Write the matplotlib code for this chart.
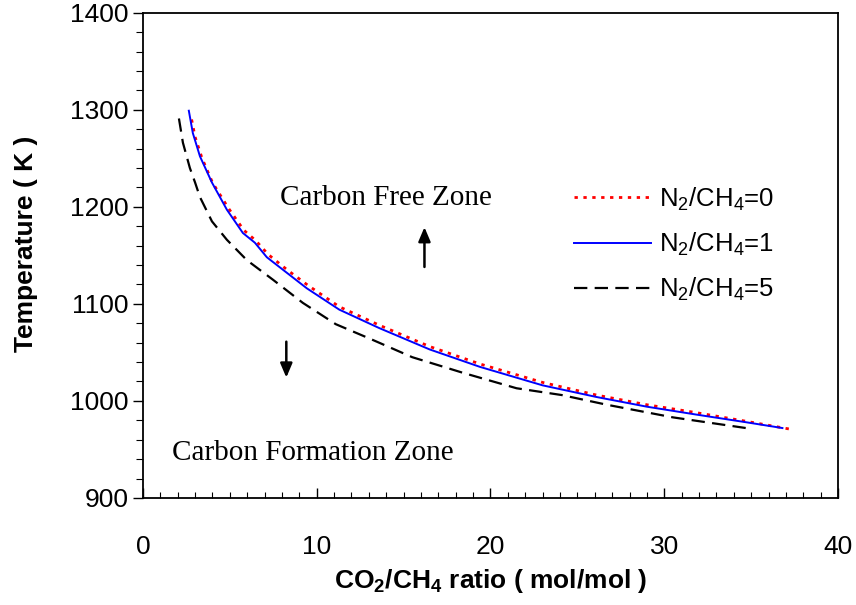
import matplotlib
matplotlib.use("Agg")
import matplotlib.pyplot as plt
from matplotlib.ticker import MultipleLocator

plt.rcParams['font.family'] = ['Liberation Sans', 'DejaVu Sans']
plt.rcParams['mathtext.fontset'] = 'custom'
plt.rcParams['mathtext.rm'] = 'Liberation Sans'
plt.rcParams['mathtext.it'] = 'Liberation Sans:italic'
plt.rcParams['mathtext.bf'] = 'Liberation Sans:bold'

# CO2/CH4 ratio vs carbon-free temperature limit
ratio_n0 = [2.8, 3.0, 3.4, 4.0, 4.9, 5.8, 6.5, 7.2, 8.3, 9.5, 11.3, 13.6, 16.5,
            19.4, 23.0, 26.1, 29.0, 31.8, 34.7, 37.2]
temp_n0 = [1290, 1272, 1250, 1225, 1199, 1176, 1165, 1151, 1135, 1119, 1097, 1078,
           1056, 1038, 1019, 1006, 996, 988, 979, 971]

ratio_n1 = [2.64, 2.87, 3.28, 3.97, 4.83, 5.75, 6.44, 7.13, 8.28, 9.43, 11.3, 13.6,
            16.5, 19.4, 23.0, 26.1, 29.0, 31.8, 34.7, 36.8]
temp_n1 = [1299, 1276, 1252, 1225, 1197, 1173, 1163, 1148, 1132, 1116, 1094, 1075,
           1053, 1035, 1016, 1004, 994, 986, 978, 972]

ratio_n5 = [2.07, 2.3, 2.7, 3.0, 3.28, 3.97, 4.83, 5.98, 7.47, 9.2, 11.1, 13.2, 15.5,
            18.4, 21.5, 24.1, 26.7, 30.5, 34.7]
temp_n5 = [1291, 1266, 1240, 1225, 1210, 1185, 1166, 1145, 1125, 1101, 1079, 1063,
           1045, 1029, 1013, 1006, 996, 983, 972]

fig = plt.figure(figsize=(8.56, 6.05), dpi=100)
ax = fig.add_axes([0.167, 0.177, 0.812, 0.802])

ax.plot(ratio_n0, temp_n0, color='red', lw=2.0, linestyle=(0, (1.2, 2.0)),
        label=r'N$_2$/CH$_4$=0')
ax.plot(ratio_n1, temp_n1, color='blue', lw=1.4, label=r'N$_2$/CH$_4$=1')
ax.plot(ratio_n5, temp_n5, color='black', lw=1.6, linestyle=(0, (6, 3.3)),
        label=r'N$_2$/CH$_4$=5')

ax.set_xlim(0, 40)
ax.set_ylim(900, 1400)
ax.xaxis.set_major_locator(MultipleLocator(10))
ax.xaxis.set_minor_locator(MultipleLocator(1))
ax.yaxis.set_major_locator(MultipleLocator(100))
ax.yaxis.set_minor_locator(MultipleLocator(20))
ax.tick_params(axis='x', which='both', direction='in', labelsize=19, pad=27)
ax.tick_params(axis='x', which='major', length=7, width=1)
ax.tick_params(axis='x', which='minor', length=4, width=0.8)
ax.tick_params(axis='y', which='both', direction='out', labelsize=19)
ax.tick_params(axis='y', which='major', length=7, width=1)
ax.tick_params(axis='y', which='minor', length=5, width=0.8)
for s in ax.spines.values():
    s.set_linewidth(1.3)

ax.set_xlabel(r'CO$_\mathbf{2}$/CH$_\mathbf{4}$ ratio ( mol/mol )', fontsize=19,
              fontweight='bold')
ax.set_ylabel('Temperature ( K )', fontsize=19, fontweight='bold')
ax.xaxis.set_label_coords(0.5, -0.143)
ax.yaxis.set_label_coords(-0.151, 0.523)

ax.text(13.99, 1209, 'Carbon Free Zone', family='Liberation Serif', fontsize=21,
        ha='center', va='center')
ax.text(9.76, 946, 'Carbon Formation Zone', family='Liberation Serif', fontsize=21,
        ha='center', va='center')

# arrows pointing into each zone
arrow = dict(arrowstyle='-|>,head_width=0.36,head_length=0.85', color='black',
             lw=1.8, mutation_scale=10, shrinkA=0, shrinkB=0)
ax.annotate('', xy=(16.2, 1179), xytext=(16.2, 1138), arrowprops=arrow)
ax.annotate('', xy=(8.25, 1024), xytext=(8.25, 1061), arrowprops=arrow)

ax.legend(loc='upper left', bbox_to_anchor=(0.62, 0.644), frameon=False,
          fontsize=18.5, handlelength=3.0, handletextpad=0.3,
          labelspacing=0.7, borderpad=0, borderaxespad=0)

fig.savefig('out.png', dpi=100)
